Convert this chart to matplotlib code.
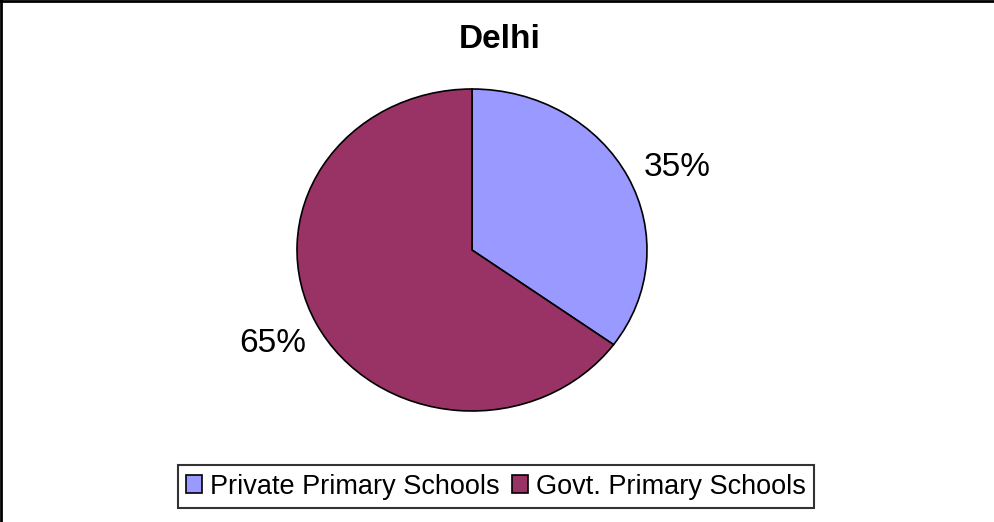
import matplotlib
matplotlib.use("Agg")
import matplotlib.pyplot as plt
from matplotlib.lines import Line2D

plt.rcParams['font.family'] = ['Liberation Sans', 'DejaVu Sans']

title = "Delhi"
categories = ["Private Primary Schools", "Govt. Primary Schools"]
shares = [35, 65]
colors = ["#9999FF", "#993366"]

W, H = 995, 522
fig = plt.figure(figsize=(W / 100, H / 100), dpi=100)

# pie area (elliptical, like the original office chart)
cx, cy, rx, ry = 472, 250, 175, 161
ax = fig.add_axes([(cx - rx) / W, (H - cy - ry) / H, 2 * rx / W, 2 * ry / H])
wedges, texts, autotexts = ax.pie(
    shares, colors=colors, startangle=90, counterclock=False,
    wedgeprops=dict(edgecolor="black", linewidth=1.2),
    autopct="%d%%", pctdistance=1.28,
    textprops=dict(fontsize=24, color="black"),
)
# the first percentage sits a little lower and further out
x0, y0 = autotexts[0].get_position()
autotexts[0].set_position((x0 + 0.03, y0 - 0.07))

ax.set_aspect("auto")
ax.set_xlim(-1.0, 1.0)
ax.set_ylim(-1.0, 1.0)
ax.axis("off")

fig.text(500 / W, 1 - 40 / H, title, ha="center", va="center",
         fontsize=24, fontweight="bold")

leg = fig.legend(wedges, categories, loc="center",
                 bbox_to_anchor=(496 / W, 1 - 486.5 / H), ncol=2,
                 fontsize=19.5, frameon=True, fancybox=False,
                 handlelength=0.6, handleheight=0.6, handletextpad=0.3,
                 columnspacing=0.45, borderpad=0.3, borderaxespad=0)
leg.get_frame().set_edgecolor("black")
leg.get_frame().set_linewidth(1.5)

# figure frame: top and left edges
fig.add_artist(Line2D([0, 1], [1 - 1 / H, 1 - 1 / H], transform=fig.transFigure,
                      color="black", linewidth=2))
fig.add_artist(Line2D([1 / W, 1 / W], [0, 1], transform=fig.transFigure,
                      color="black", linewidth=2))

fig.savefig("out.png", dpi=100)
